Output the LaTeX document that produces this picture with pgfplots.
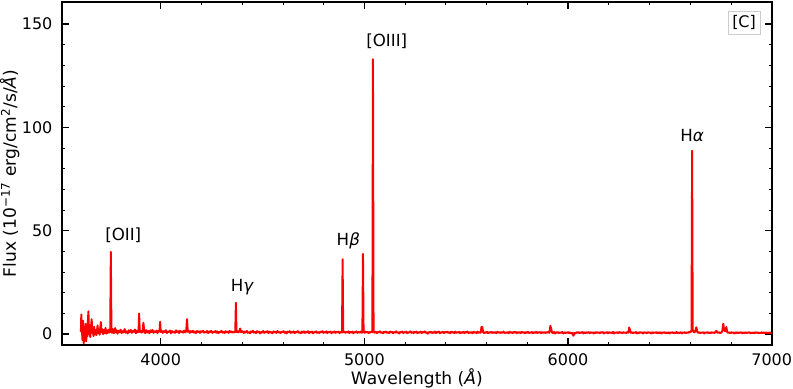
\documentclass[border=0pt]{standalone}
\usepackage{fontspec}
\setmainfont{DejaVu Sans}[ItalicFont={DejaVu Sans Oblique}]
\usepackage{pgfplots}
\pgfplotsset{compat=1.18}
\newcommand\lbl{\fontsize{11.5}{14}\selectfont}
\newcommand\axl{\fontsize{12.3}{15}\selectfont}
\newcommand\ann{\fontsize{12}{14}\selectfont}
\begin{document}
\begin{tikzpicture}
\begin{axis}[
  scale only axis, width=511pt, height=247pt,
  xmin=3515, xmax=7000, ymin=-5.3, ymax=160.7,
  xtick={4000,5000,6000,7000}, ytick={0,50,100,150},
  minor x tick num=4, minor y tick num=4,
  tick align=inside, xtick pos=both, ytick pos=both,
  xticklabel pos=lower, yticklabel pos=left,
  major tick length=4.8pt, minor tick length=2pt,
  every major tick/.style={black, line width=0.9pt},
  every minor tick/.style={black, line width=0.6pt},
  axis line style={line width=1.1pt},
  /pgf/number format/assume math mode=true,
  /pgf/number format/1000 sep={},
  tick label style={font=\lbl},
  xticklabel style={anchor=base, yshift=-14.4pt},
  yticklabel style={anchor=east, inner sep=0pt, xshift=-6.7pt},
  xlabel={Wavelength (\textit{Å})},
  ylabel={Flux (10\textsuperscript{−17} erg/cm\textsuperscript{2}/s/\textit{Å})},
  xlabel style={font=\axl, at={(axis description cs:0.5,-0.1146)}, anchor=base},
  ylabel style={font=\axl, at={(axis description cs:-0.0648,0.5)}, anchor=base},
]
% spectrum
\addplot[red, line width=1.4pt, line join=round, mark=none] coordinates {
(3608,1.0)(3610,9.5)(3613,2.0)(3616,-3.0)(3619,6.5)(3622,-4.5)(3625,3.0)(3628,-2.0)
(3631,5.0)(3634,-3.5)(3637,2.5)(3640,-1.0)(3643,7.5)(3645,11.0)(3648,0.0)(3651,4.0)
(3654,-1.5)(3657,3.0)(3661,7.2)(3664,0.5)(3667,2.5)(3670,-1.0)(3673,3.5)(3676,0.0)
(3680,2.0)(3684,-0.5)(3687,1.5)(3690,4.2)(3693,0.5)(3697,2.2)(3700,-0.3)(3703,2.5)
(3706,5.8)(3709,0.8)(3713,2.4)(3717,0.0)(3721,2.0)(3725,0.5)(3729,3.0)(3733,0.2)
(3737,1.8)(3741,0.6)(3745,2.2)(3749,0.8)(3752,1.5)(3755,39.8)(3758,1.8)(3761,0.6)
(3765,2.4)(3770,0.4)(3776,2.9)(3780,0.8)(3783,1.9)(3788,0.2)(3793,1.6)(3798,0.9)
(3803,2.1)(3808,0.5)(3813,1.4)(3818,0.8)(3823,2.4)(3828,0.7)(3833,1.3)(3838,0.3)
(3843,1.8)(3848,1.0)(3853,2.0)(3858,0.6)(3863,1.5)(3868,1.1)(3873,2.2)(3878,0.4)
(3883,1.7)(3888,0.9)(3891,1.2)(3894,10.0)(3897,1.0)(3902,1.6)(3907,0.7)(3911,1.4)
(3915,5.5)(3919,1.1)(3924,0.5)(3929,1.9)(3934,0.8)(3939,1.5)(3944,0.4)(3949,1.8)
(3954,1.0)(3959,2.0)(3964,0.6)(3969,1.3)(3974,0.9)(3979,1.7)(3984,0.5)(3989,1.5)
(3994,1.2)(3997,6.0)(4000,1.0)(4005,1.6)(4010,0.6)(4015,1.4)(4020,0.9)(4025,1.9)
(4030,0.5)(4035,1.3)(4040,1.0)(4045,1.7)(4050,0.4)(4055,1.5)(4060,0.8)(4065,1.2)
(4070,0.6)(4075,1.8)(4080,0.9)(4085,1.4)(4090,0.5)(4095,1.6)(4100,1.0)(4105,1.3)
(4110,0.7)(4115,1.7)(4120,0.8)(4125,1.3)(4129,7.2)(4133,1.1)(4138,1.5)(4143,0.6)
(4148,1.4)(4153,0.9)(4158,1.6)(4163,0.7)(4168,1.2)(4173,0.5)(4178,1.5)(4183,0.9)
(4188,1.3)(4193,0.6)(4198,1.4)(4203,1.0)(4208,1.6)(4213,0.7)(4218,1.2)(4223,0.8)
(4228,1.5)(4233,0.5)(4238,1.3)(4243,0.9)(4248,1.6)(4253,0.6)(4258,1.1)(4263,0.8)
(4268,1.5)(4273,0.7)(4278,1.3)(4283,0.4)(4288,1.2)(4293,0.9)(4298,1.6)(4303,0.7)
(4308,1.1)(4313,0.5)(4318,1.4)(4323,0.8)(4328,1.2)(4333,0.6)(4338,1.5)(4343,0.9)
(4348,1.3)(4353,0.7)(4358,1.1)(4363,0.9)(4366,1.2)(4369,15.2)(4372,1.0)(4377,1.4)
(4381,0.8)(4386,1.3)(4390,2.7)(4394,0.9)(4398,1.4)(4403,1.3)(4408,0.5)(4413,1.2)
(4418,0.8)(4423,1.5)(4428,0.6)(4433,1.0)(4438,0.4)(4443,1.3)(4448,0.9)(4453,1.6)
(4458,0.7)(4463,1.1)(4468,0.5)(4473,1.4)(4478,0.8)(4483,1.2)(4488,0.3)(4493,1.0)
(4498,0.7)(4503,1.5)(4508,0.6)(4513,1.1)(4518,0.9)(4523,1.4)(4528,0.5)(4533,1.2)
(4538,0.7)(4543,1.0)(4548,0.4)(4553,1.3)(4558,0.8)(4563,1.1)(4568,0.6)(4573,1.5)
(4578,0.7)(4583,1.0)(4588,0.5)(4593,1.2)(4598,0.9)(4603,1.4)(4608,0.6)(4613,1.0)
(4618,0.3)(4623,1.2)(4628,0.8)(4633,1.4)(4638,0.6)(4643,1.0)(4648,0.7)(4653,1.3)
(4658,0.5)(4663,1.1)(4668,0.8)(4673,1.4)(4678,0.6)(4683,0.9)(4688,0.4)(4693,1.2)
(4698,0.7)(4703,1.3)(4708,0.6)(4713,1.0)(4718,0.8)(4723,1.4)(4728,0.5)(4733,1.1)
(4738,0.7)(4743,1.2)(4748,0.4)(4753,1.0)(4758,0.8)(4763,1.3)(4768,0.6)(4773,1.0)
(4778,0.5)(4783,1.2)(4788,0.9)(4793,1.4)(4798,0.6)(4803,1.0)(4808,0.7)(4813,1.3)
(4818,0.5)(4823,1.1)(4828,0.8)(4833,1.2)(4838,0.4)(4843,1.0)(4848,0.7)(4853,1.3)
(4858,0.6)(4863,1.1)(4868,0.8)(4873,1.2)(4878,0.5)(4883,1.0)(4888,0.7)(4890,0.9)
(4893,36.2)(4896,0.9)(4901,1.2)(4906,0.6)(4911,1.0)(4916,0.8)(4921,1.3)(4926,0.5)
(4931,1.1)(4936,0.7)(4941,1.2)(4946,0.4)(4951,1.0)(4956,0.8)(4961,1.3)(4966,0.6)
(4971,1.0)(4976,0.7)(4981,1.2)(4986,0.6)(4990,0.9)(4993,38.8)(4996,1.0)(5001,0.6)
(5006,1.2)(5011,0.7)(5016,1.1)(5021,0.5)(5026,1.0)(5031,0.8)(5035,1.2)(5039,0.9)
(5042,133.0)(5045,1.4)(5049,0.7)(5052,1.0)(5056,1.1)(5061,0.5)(5066,1.0)(5071,0.8)
(5076,1.3)(5081,0.6)(5086,0.9)(5091,0.4)(5096,1.1)(5101,0.7)(5106,1.2)(5111,0.6)
(5116,0.9)(5121,0.5)(5126,1.2)(5131,0.8)(5136,1.1)(5141,0.4)(5146,1.0)(5151,0.7)
(5156,1.3)(5161,0.6)(5166,0.9)(5171,0.3)(5176,1.1)(5181,0.8)(5186,1.2)(5191,0.5)
(5196,1.0)(5201,0.7)(5206,1.2)(5211,0.4)(5216,0.9)(5221,0.8)(5226,1.3)(5231,0.6)
(5236,1.0)(5241,0.5)(5246,1.1)(5251,0.7)(5256,1.2)(5261,0.4)(5266,0.9)(5271,0.7)
(5276,1.2)(5281,0.5)(5286,1.0)(5291,0.8)(5296,1.3)(5301,0.6)(5306,0.9)(5311,0.2)
(5316,1.0)(5321,0.7)(5326,1.1)(5331,0.5)(5336,0.9)(5341,0.6)(5346,1.2)(5351,0.5)
(5356,1.0)(5361,0.8)(5366,1.2)(5371,0.4)(5376,0.9)(5381,0.7)(5386,1.1)(5391,0.5)
(5396,1.0)(5401,0.8)(5406,1.2)(5411,0.6)(5416,0.9)(5421,0.4)(5426,1.1)(5431,0.7)
(5436,1.0)(5441,0.5)(5446,1.2)(5451,0.6)(5456,0.9)(5461,0.7)(5466,1.1)(5471,0.4)
(5476,0.9)(5481,0.6)(5486,1.1)(5491,0.5)(5496,1.0)(5501,0.8)(5506,1.2)(5511,0.5)
(5516,0.9)(5521,0.6)(5526,1.0)(5531,0.4)(5536,1.1)(5541,0.7)(5546,0.9)(5551,0.5)
(5556,1.2)(5561,0.6)(5566,0.9)(5571,0.7)(5575,3.5)(5579,3.4)(5583,0.8)(5588,0.5)
(5593,1.0)(5598,0.6)(5603,1.1)(5608,0.4)(5613,0.9)(5618,0.7)(5623,1.1)(5628,0.5)
(5633,0.9)(5638,0.6)(5643,1.0)(5648,0.4)(5653,1.1)(5658,0.7)(5663,0.9)(5668,0.5)
(5673,1.0)(5678,0.6)(5683,1.2)(5688,0.5)(5693,0.8)(5698,0.6)(5703,1.0)(5708,0.4)
(5713,1.1)(5718,0.7)(5723,0.9)(5728,0.5)(5733,1.0)(5738,0.8)(5743,1.1)(5748,0.4)
(5753,0.9)(5758,0.6)(5763,1.0)(5768,0.5)(5773,1.1)(5778,0.7)(5783,0.9)(5788,0.4)
(5793,1.0)(5798,0.6)(5803,1.1)(5808,0.5)(5813,0.8)(5818,0.7)(5823,1.0)(5828,0.4)
(5833,0.9)(5838,0.6)(5843,1.1)(5848,0.5)(5853,0.9)(5858,0.7)(5863,1.0)(5868,0.4)
(5873,0.9)(5878,0.6)(5883,1.0)(5888,0.5)(5893,0.9)(5898,0.7)(5903,1.1)(5908,0.6)
(5913,4.0)(5917,2.6)(5921,0.8)(5926,0.5)(5931,1.0)(5936,0.3)(5941,0.9)(5946,0.6)
(5951,1.0)(5956,0.4)(5961,0.8)(5966,0.6)(5971,1.0)(5976,0.3)(5981,0.9)(5986,0.5)
(5991,0.8)(5996,0.6)(6001,1.0)(6006,0.4)(6011,0.8)(6016,0.2)(6021,0.6)(6026,-0.8)
(6031,0.5)(6036,0.3)(6041,0.9)(6046,0.6)(6051,1.0)(6056,0.4)(6061,0.8)(6066,0.6)
(6071,1.0)(6076,0.3)(6081,0.9)(6086,0.5)(6091,0.8)(6096,0.7)(6101,1.0)(6106,0.4)
(6111,0.9)(6116,0.6)(6121,0.8)(6126,0.3)(6131,0.9)(6136,0.5)(6141,1.0)(6146,0.6)
(6151,0.8)(6156,0.4)(6161,0.9)(6166,0.7)(6171,1.0)(6176,0.3)(6181,0.8)(6186,0.6)
(6191,1.0)(6196,0.4)(6201,0.9)(6206,0.6)(6211,0.8)(6216,0.5)(6221,1.0)(6226,0.3)
(6231,0.8)(6236,0.6)(6241,0.9)(6246,0.4)(6251,1.0)(6256,0.7)(6261,0.8)(6266,0.4)
(6271,0.9)(6276,0.6)(6281,0.8)(6286,0.5)(6291,1.0)(6296,0.7)(6300,3.2)(6304,2.0)
(6308,0.6)(6313,0.9)(6318,0.4)(6323,0.8)(6328,0.6)(6333,1.0)(6338,0.3)(6343,0.8)
(6348,0.5)(6353,0.9)(6358,0.7)(6363,0.8)(6368,0.3)(6373,0.9)(6378,0.6)(6383,0.8)
(6388,0.4)(6393,1.0)(6398,0.6)(6403,0.8)(6408,0.3)(6413,0.9)(6418,0.5)(6423,0.8)
(6428,0.6)(6433,1.0)(6438,0.4)(6443,0.8)(6448,0.5)(6453,0.9)(6458,0.3)(6463,0.8)
(6468,0.6)(6473,1.0)(6478,0.4)(6483,0.7)(6488,0.5)(6493,0.9)(6498,0.3)(6503,0.8)
(6508,0.6)(6513,0.9)(6518,0.4)(6523,0.8)(6528,0.5)(6533,1.0)(6538,0.4)(6543,0.7)
(6548,0.6)(6553,0.9)(6558,0.3)(6563,0.8)(6568,0.6)(6573,0.9)(6578,0.4)(6583,0.8)
(6588,0.6)(6593,1.0)(6598,0.8)(6603,1.2)(6606,2.0)(6609,88.7)(6612,2.2)(6616,1.0)
(6621,0.8)(6625,1.6)(6630,3.3)(6634,1.2)(6639,0.6)(6644,0.9)(6649,0.4)(6654,0.8)
(6659,0.6)(6664,0.9)(6669,0.3)(6674,0.8)(6679,0.6)(6684,0.9)(6689,0.5)(6694,0.8)
(6699,0.4)(6704,0.9)(6709,0.6)(6714,0.8)(6719,0.5)(6724,1.1)(6728,1.6)(6732,0.8)
(6737,0.6)(6742,0.9)(6747,0.4)(6752,0.8)(6757,1.2)(6762,5.0)(6766,2.0)(6772,1.4)
(6777,3.4)(6781,1.0)(6786,0.6)(6791,0.8)(6796,0.4)(6801,0.9)(6806,0.6)(6811,0.8)
(6816,0.3)(6821,0.8)(6826,0.5)(6831,0.9)(6836,0.4)(6841,0.8)(6846,0.6)(6851,0.9)
(6856,0.3)(6861,0.7)(6866,0.5)(6871,0.9)(6876,0.4)(6881,0.8)(6886,0.6)(6891,0.9)
(6896,0.3)(6901,0.7)(6906,0.5)(6911,0.8)(6916,0.4)(6921,0.9)(6926,0.6)(6931,0.8)
(6936,0.3)(6941,0.7)(6946,0.5)(6951,0.9)(6956,0.4)(6961,0.8)(6966,0.5)(6971,0.8)
(6976,0.3)(6981,0.7)(6986,0.5)(6991,0.8)(6996,0.4)(7001,0.7)(7005,0.5)
};
\node[font=\ann] at (axis cs:3816,47.7) {[OII]};
\node[font=\ann] at (axis cs:4401,22.7) {H\textit{γ}};
\node[font=\ann] at (axis cs:4921,45.1) {H\textit{β}};
\node[font=\ann] at (axis cs:5110,141.5) {[OIII]};
\node[font=\ann] at (axis cs:6609,96.1) {H\textit{α}};
\node[font=\lbl, draw=black!20, fill=white, inner sep=3pt] at (axis description cs:0.961,0.940) {[C]};
\end{axis}
\pgfresetboundingbox
\path[use as bounding box] ([shift={(-44.6pt,-31pt)}]current axis.south west) rectangle ([shift={(15.3pt,1.4pt)}]current axis.north east);
\end{tikzpicture}
\end{document}
